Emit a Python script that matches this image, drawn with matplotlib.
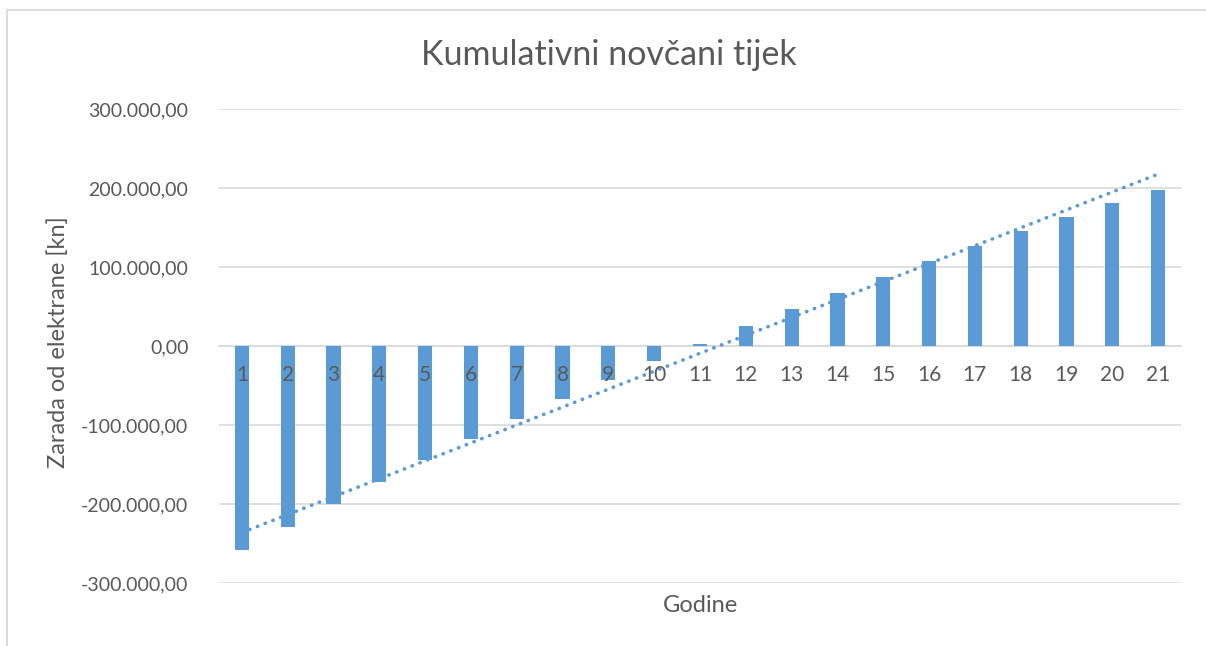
import numpy as np
import matplotlib
matplotlib.use("Agg")
import matplotlib.pyplot as plt
from matplotlib.lines import Line2D
from matplotlib.ticker import FuncFormatter

years = list(range(1, 22))
cash_flow = [-258200, -228700, -200000, -171800, -144300, -117700, -92400,
             -67600, -43000, -19500, 2300, 24900, 46400, 67100, 87300,
             107200, 126600, 145200, 163300, 180600, 197900]
title = "Kumulativni novčani tijek"
ylabel = "Zarada od elektrane [kn]"
xlabel = "Godine"

BLUE = "#5B9BD5"
TXT = "#595959"
GRID = "#D9D9D9"

plt.rcParams['font.family'] = ['Lato', 'DejaVu Sans']

fig = plt.figure(figsize=(12.06, 6.46), dpi=100)
W, H = 1206, 646
ax = fig.add_axes([219 / W, 1 - 583 / H, (1181 - 219) / W, (583 - 109) / H])

x = np.arange(len(years))
ax.bar(x, cash_flow, width=0.31, color=BLUE, zorder=3)

# linear trendline
coef = np.polyfit(x, cash_flow, 1)
xt = np.array([x[0], x[-1]])
ax.plot(xt, np.polyval(coef, xt), color=BLUE, lw=2.6, linestyle=(0, (0.1, 2.2)),
        dash_capstyle='round', zorder=4)

ax.set_xlim(-0.5, len(years) - 0.5)
ax.set_ylim(-300000, 300000)
ax.set_yticks(np.arange(-300000, 300001, 100000))

def fmt(v, pos):
    s = f"{abs(v):,.2f}".replace(",", "X").replace(".", ",").replace("X", ".")
    return ("-" if v < 0 else "") + s

ax.yaxis.set_major_formatter(FuncFormatter(fmt))
ax.grid(axis='y', color=GRID, lw=1.2, zorder=0)
ax.set_axisbelow(True)
ax.xaxis.set_zorder(5)
for s in ['top', 'right', 'left']:
    ax.spines[s].set_visible(False)
ax.spines['bottom'].set_position(('data', 0))
ax.spines['bottom'].set_color(GRID)
ax.spines['bottom'].set_linewidth(1.2)
ax.spines['bottom'].set_zorder(1)
ax.set_xticks(x)
ax.set_xticklabels([str(y) for y in years])
ax.tick_params(axis='x', length=0, pad=14, labelsize=15, labelcolor=TXT)
ax.tick_params(axis='y', length=0, pad=22, labelsize=14, labelcolor=TXT)

fig.text(609 / W, 1 - 55 / H, title, ha='center', va='center', fontsize=24.5, color=TXT)
fig.text(58 / W, 1 - 342 / H, ylabel, ha='center', va='center', rotation=90,
         fontsize=17, color=TXT)
fig.text(700 / W, 1 - 605 / H, xlabel, ha='center', va='center', fontsize=17, color=TXT)

# outer chart border (top and left visible)
fig.add_artist(Line2D([7 / W, 1], [1 - 9.5 / H, 1 - 9.5 / H], color=GRID, lw=1.3,
                      transform=fig.transFigure))
fig.add_artist(Line2D([7 / W, 7 / W], [0, 1 - 9.5 / H], color=GRID, lw=1.3,
                      transform=fig.transFigure))

fig.savefig("out.png", dpi=100, facecolor="white")
